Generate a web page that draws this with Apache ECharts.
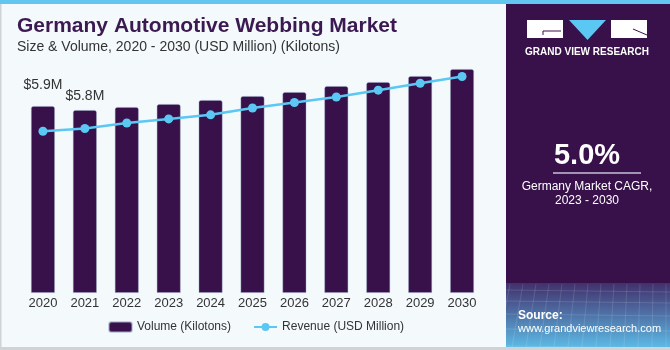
<!DOCTYPE html>
<html>
<head>
<meta charset="utf-8">
<script src="https://cdn.jsdelivr.net/npm/echarts@6/dist/echarts.min.js"></script>
<style>
  html, body { margin: 0; padding: 0; background: #f4f9fc; }
  #chart { width: 670px; height: 350px; }
</style>
</head>
<body>
<div id="chart"></div>
<script>
var years = ["2020", "2021", "2022", "2023", "2024", "2025", "2026", "2027", "2028", "2029", "2030"];
// volume in kilotons
var volume = [18.7, 18.3, 18.6, 18.9, 19.3, 19.7, 20.1, 20.7, 21.1, 21.7, 22.4];
// revenue in USD million
var revenue = [5.9, 6.0, 6.2, 6.35, 6.5, 6.75, 6.95, 7.15, 7.4, 7.65, 7.9];
var valueLabels = ["$5.9M", "$5.8M"];
var labelGaps = [14, 7];

var font = "'Liberation Sans', Arial, sans-serif";
var purple = "#38114b";
var blue = "#5bc8f3";

var chart = echarts.init(document.getElementById("chart"));

var barData = volume.map(function (v, i) {
  if (i < valueLabels.length) {
    return {
      value: v,
      label: {
        show: true,
        position: "top",
        distance: labelGaps[i],
        formatter: valueLabels[i],
        color: "#333",
        fontSize: 14,
        fontFamily: font
      }
    };
  }
  return v;
});

// faint mesh lines for the source box
var mesh = [];
for (var k = 0; k < 6; k++) {
  var yy = 290 + k * 10 + k * k;
  mesh.push({ type: "line", shape: { x1: 506, y1: yy, x2: 670, y2: yy + 2 },
    style: { stroke: "rgba(255,255,255,0.13)", lineWidth: 1 } });
}
for (var j = 0; j < 14; j++) {
  var xx = 506 + j * 13;
  mesh.push({ type: "line", shape: { x1: xx + 4, y1: 284, x2: xx - 8 + j, y2: 347 },
    style: { stroke: "rgba(255,255,255,0.12)", lineWidth: 1 } });
}

var option = {
  backgroundColor: "#f4f9fc",
  animation: false,
  grid: { left: 22, width: 461, top: 60, bottom: 57 },
  legend: {
    left: 108,
    top: 321,
    padding: 0,
    itemWidth: 23,
    itemHeight: 10,
    itemGap: 22,
    textStyle: { color: "#333", fontSize: 12, fontFamily: font },
    data: ["Volume (Kilotons)", "Revenue (USD Million)"]
  },
  xAxis: {
    type: "category",
    data: years,
    axisLine: { show: false },
    axisTick: { show: false },
    axisLabel: { color: "#333", fontSize: 13, fontFamily: font, margin: 4 }
  },
  yAxis: [
    { type: "value", min: 0, max: 23.3, show: false, splitLine: { show: false } },
    { type: "value", min: 0, max: 8.5, show: false, splitLine: { show: false } }
  ],
  series: [
    {
      name: "Volume (Kilotons)",
      type: "bar",
      data: barData,
      barWidth: 24,
      itemStyle: {
        color: purple,
        borderRadius: [2, 2, 0, 0],
        borderColor: "rgba(150,170,200,0.5)",
        borderWidth: 0.8
      }
    },
    {
      name: "Revenue (USD Million)",
      type: "line",
      yAxisIndex: 1,
      data: revenue,
      symbol: "circle",
      symbolSize: 9,
      lineStyle: { color: blue, width: 2.5 },
      itemStyle: { color: blue }
    }
  ],
  graphic: [
    { type: "rect", shape: { x: 0, y: 0, width: 670, height: 4 }, style: { fill: "#62c6ee" } },
    { type: "rect", shape: { x: 0, y: 4, width: 1.5, height: 346 }, style: { fill: "#cfd3d6" } },
    { type: "rect", shape: { x: 0, y: 347, width: 670, height: 3 }, style: { fill: "#cfd3d6" } },
    { type: "text", left: 17, top: 16, style: {
        text: "Germany Automotive Webbing Market", fill: "#3b1a52",
        font: "bold 21px " + font } },
    { type: "text", left: 17, top: 40, style: {
        text: "Size & Volume, 2020 - 2030 (USD Million) (Kilotons)", fill: "#333",
        font: "14px " + font } },
    // right panel
    { type: "rect", shape: { x: 506, y: 4, width: 164, height: 280 }, style: { fill: purple } },
    { type: "rect", shape: { x: 506, y: 283, width: 164, height: 64 }, style: {
        fill: new echarts.graphic.LinearGradient(0, 0, 0, 1, [
          { offset: 0, color: "#41306b" },
          { offset: 0.5, color: "#4f73a8" },
          { offset: 1, color: "#5cb9e4" }
        ]) } }
  ].concat(mesh).concat([
    // logo
    { type: "rect", shape: { x: 527, y: 20, width: 36, height: 18 }, style: { fill: "#fff" } },
    { type: "line", shape: { x1: 543, y1: 31, x2: 561, y2: 31 }, style: { stroke: purple, lineWidth: 1 } },
    { type: "line", shape: { x1: 543, y1: 31, x2: 543, y2: 35 }, style: { stroke: purple, lineWidth: 1 } },
    { type: "polygon", shape: { points: [[569, 20], [606, 20], [587.5, 40]] }, style: { fill: blue } },
    { type: "rect", shape: { x: 611, y: 20, width: 36, height: 18 }, style: { fill: "#fff" } },
    { type: "line", shape: { x1: 633, y1: 29, x2: 647, y2: 35 }, style: { stroke: purple, lineWidth: 1 } },
    { type: "text", x: 587, y: 52, style: {
        text: "GRAND VIEW RESEARCH", fill: "#fff", font: "bold 10px " + font,
        align: "center", verticalAlign: "middle" } },
    { type: "text", x: 587, y: 156, style: {
        text: "5.0%", fill: "#fff", font: "bold 29px " + font,
        align: "center", verticalAlign: "middle" } },
    { type: "line", shape: { x1: 553, y1: 173, x2: 641, y2: 173 }, style: { stroke: "#c9c0d6", lineWidth: 1.5 } },
    { type: "text", x: 587, y: 187, style: {
        text: "Germany Market CAGR,", fill: "#fff", font: "12px " + font,
        align: "center", verticalAlign: "middle" } },
    { type: "text", x: 587, y: 201, style: {
        text: "2023 - 2030", fill: "#fff", font: "12px " + font,
        align: "center", verticalAlign: "middle" } },
    { type: "text", x: 518, y: 316, style: {
        text: "Source:", fill: "#fff", font: "bold 12px " + font, verticalAlign: "middle" } },
    { type: "text", x: 518, y: 329, style: {
        text: "www.grandviewresearch.com", fill: "#fff", font: "11px " + font, verticalAlign: "middle" } }
  ])
};

chart.setOption(option);
</script>
</body>
</html>
